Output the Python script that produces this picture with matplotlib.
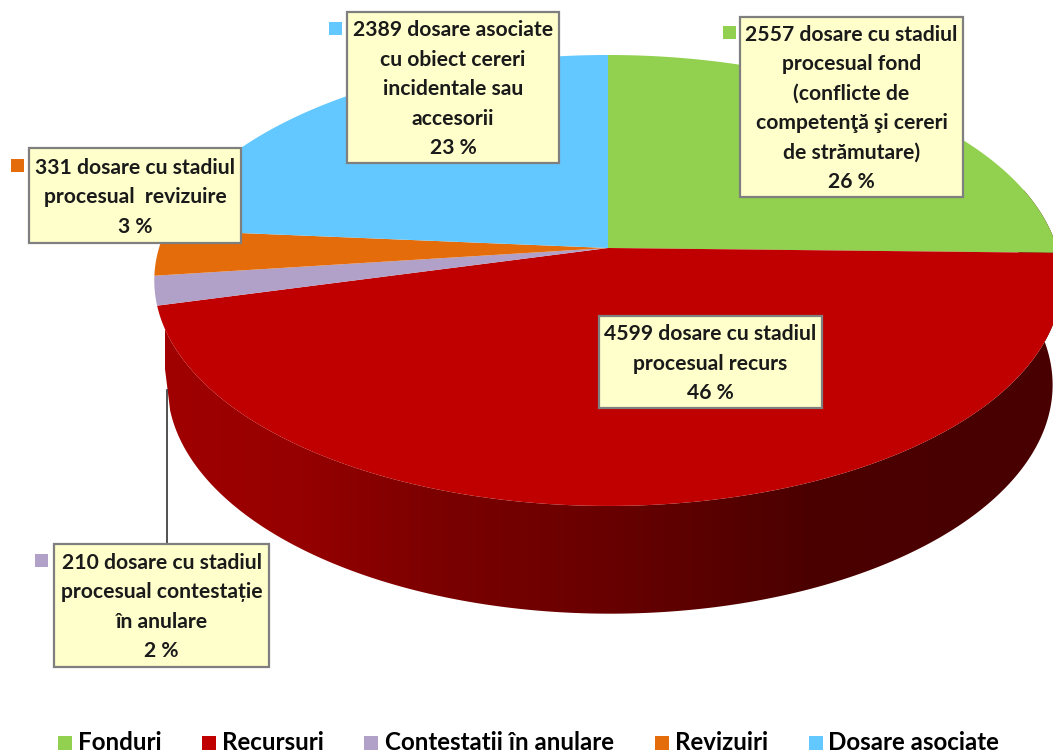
import numpy as np
import matplotlib
matplotlib.use("Agg")
import matplotlib.pyplot as plt
from matplotlib.colors import LinearSegmentedColormap
from matplotlib.patches import Polygon, Rectangle

plt.rcParams['font.family'] = ['Lato', 'DejaVu Sans']

categories = ["Fonduri", "Recursuri", "Contestatii în anulare", "Revizuiri", "Dosare asociate"]
counts = [2557, 4599, 210, 331, 2389]
colors = ["#92D050", "#C00000", "#B1A0C7", "#E46C0A", "#63C8FF"]

label_lines = [
    ["2557 dosare cu stadiul", "procesual fond", "(conflicte de", "competenţă şi cereri", "de strămutare)", "26 %"],
    ["4599 dosare cu stadiul", "procesual recurs", "46 %"],
    ["210 dosare cu stadiul", "procesual contestație", "în anulare", "2 %"],
    ["331 dosare cu stadiul", "procesual  revizuire", "3 %"],
    ["2389 dosare asociate", "cu obiect cereri", "incidentale sau", "accesorii", "23 %"],
]
# box left, top, right, bottom in pixels, then the small key square
label_boxes = [(740, 17, 963, 197), (599, 316, 822, 408), (54, 544, 269, 667), (29, 148, 241, 243), (347, 12, 559, 163)]
key_squares = [(723, 26), (None, None), (35, 554), (11, 159), (329, 22)]
legend_squares = [58, 202, 364, 655, 809]
legend_text = [78, 222, 385, 675, 828]

W, H = 1053, 753


def project(t, cx, cy, rx, ry, k):
    # t clockwise from the top, perspective on the disc
    u = np.sin(t)
    v = np.cos(t)
    w = 1 + k * v
    return cx + rx * u / w, cy - ry * v / w


def top_rim(t):
    return project(t, 608, 248, 449, 220.8, 0.144)


def low_rim(t):
    return project(t, 610, 352, 438, 224, 0.144)


fig = plt.figure(figsize=(W / 100, H / 100), dpi=100)
ax = fig.add_axes([0, 0, 1, 1])

fractions = np.array(counts) / sum(counts)
edges = np.concatenate([[0], np.cumsum(fractions)]) * 2 * np.pi

# side of the pie, starts a bit early so the right edge has no gap (top covers it)
side_cmap = LinearSegmentedColormap.from_list(
    "side", [(0, "#A00000"), (0.15, "#960000"), (0.3, "#7C0000"), (0.5, "#680000"),
             (0.72, "#4C0000"), (1, "#480000")])
ts = np.linspace(edges[1] - 0.3, edges[2], 400)
xt, yt = top_rim(ts)
xb, yb = low_rim(ts)
side_pts = np.r_[np.c_[xt, yt], np.c_[xb, yb][::-1]]
side = Polygon(side_pts, closed=True, facecolor="none", edgecolor="none")
ax.add_patch(side)
grad = ax.imshow(np.linspace(0, 1, 512)[None, :], cmap=side_cmap, extent=(165, W, H, 0), aspect="auto")
grad.set_clip_path(side)

# top of the pie
for i in range(len(counts)):
    t = np.linspace(edges[i], edges[i + 1], 200)
    x, y = top_rim(t)
    ax.fill(np.r_[608, x], np.r_[248, y], color=colors[i], lw=0)

ax.set_xlim(0, W)
ax.set_ylim(H, 0)
ax.axis("off")

# leader line for the 2 % box
ax.plot([167, 167], [390, 544], color="#333333", lw=1.2)

for i in range(len(counts)):
    x0, y0, x1, y1 = label_boxes[i]
    ax.add_patch(Rectangle((x0, y0), x1 - x0, y1 - y0, facecolor="#FFFFCC", edgecolor="#7F7F7F", lw=1.6, zorder=4))
    lines = label_lines[i]
    first = (y0 + y1) / 2 - (len(lines) - 1) * 29.5 / 2 + 1.5
    for j in range(len(lines)):
        ax.text((x0 + x1) / 2, first + j * 29.5, lines[j], ha="center", va="center",
                fontsize=15.2, fontweight="bold", color="#1A1A1A", zorder=5)
    if key_squares[i][0] is not None:
        kx, ky = key_squares[i]
        ax.add_patch(Rectangle((kx, ky), 13, 13, facecolor=colors[i], lw=0, zorder=3))

# legend
for i in range(len(categories)):
    ax.add_patch(Rectangle((legend_squares[i], 736), 14, 14, facecolor=colors[i], lw=0))
    ax.text(legend_text[i], 743, categories[i], ha="left", va="center",
            fontsize=17.4, fontweight="bold", color="black")

fig.savefig("out.png", dpi=100)
